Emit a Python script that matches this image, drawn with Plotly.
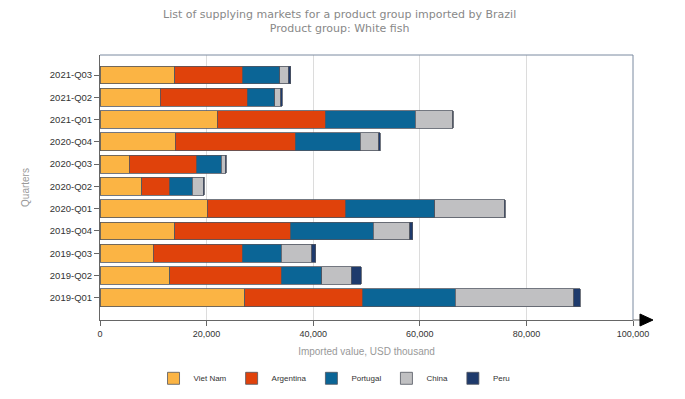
import plotly.graph_objects as go

quarters = ["2019-Q01", "2019-Q02", "2019-Q03", "2019-Q04", "2020-Q01", "2020-Q02",
            "2020-Q03", "2020-Q04", "2021-Q01", "2021-Q02", "2021-Q03"]
viet_nam = [27200, 13130, 10010, 14070, 20140, 7820, 5440, 14130, 22010, 11260, 14070]
argentina = [22080, 20890, 16690, 21760, 25950, 5310, 12690, 22460, 20260, 16380, 12700]
portugal = [17390, 7630, 7260, 15450, 16760, 4190, 4630, 12250, 16890, 5190, 7000]
china = [22200, 5500, 5750, 6880, 12950, 2060, 750, 3430, 7000, 1060, 1560]
peru = [1190, 1820, 750, 560, 190, 190, 190, 320, 130, 320, 500]

series = [
    ("Viet Nam", viet_nam, "#FBB444"),
    ("Argentina", argentina, "#E0420B"),
    ("Portugal", portugal, "#0B6596"),
    ("China", china, "#C0C0C2"),
    ("Peru", peru, "#1E3A6C"),
]

fig = go.Figure()
for name, vals, col in series:
    fig.add_trace(go.Bar(
        y=quarters, x=vals, name=name, orientation="h",
        marker=dict(color=col, line=dict(color="#505560", width=0.8)),
    ))

font = "Liberation Sans, Arial, sans-serif"
fig.update_layout(
    width=685, height=399,
    barmode="stack", bargap=0.2,
    margin=dict(l=92, r=60, t=47, b=87, autoexpand=False),
    paper_bgcolor="white", plot_bgcolor="white",
    font=dict(family=font, size=9, color="#333"),
    xaxis=dict(
        range=[0, 100000], tickvals=[0, 20000, 40000, 60000, 80000, 100000],
        tickformat=",", showgrid=True, gridcolor="#dcdcdc", gridwidth=1,
        showline=True, linecolor="#666", linewidth=1,
        ticks="outside", ticklen=5, tickcolor="#666",
        zeroline=False, mirror=False, automargin=False,
        title=dict(text="Imported value, USD thousand", font=dict(size=10, color="#999"), standoff=10),
        tickfont=dict(size=9, color="#333"),
    ),
    yaxis=dict(
        categoryorder="array", categoryarray=quarters,
        range=[-1, 10.9], automargin=False,
        showline=True, linecolor="#666", linewidth=1,
        ticks="outside", ticklen=5, tickcolor="#666",
        showgrid=False,
        title=dict(text="Quarters", font=dict(size=10, color="#999"), standoff=18),
        tickfont=dict(size=9.5, color="#333"),
    ),
    legend=dict(
        orientation="h", x=0.44, xanchor="center", y=-0.22, yanchor="middle",
        font=dict(size=8, color="#333"), traceorder="normal",
        itemwidth=30,
    ),
    showlegend=True,
)

fig.add_annotation(
    text="List of supplying markets for a product group imported by Brazil<br>Product group: White fish",
    xref="paper", yref="paper", x=0.45, y=1.128, xanchor="center", yanchor="middle",
    showarrow=False, borderpad=0,
    font=dict(family="DejaVu Sans, sans-serif", size=11, color="#888"),
)

# frame: top and right border lines
fig.add_shape(type="line", xref="paper", yref="paper", x0=0, x1=1, y0=1, y1=1,
              line=dict(color="#7a8aa0", width=1))
fig.add_shape(type="line", xref="paper", yref="paper", x0=1, x1=1, y0=0, y1=1,
              line=dict(color="#7a8aa0", width=1))
# x axis extension and arrow
fig.add_shape(type="line", xref="paper", yref="paper", x0=1, x1=1.015, y0=0, y1=0,
              line=dict(color="#666", width=1))
fig.add_shape(type="path", xref="paper", yref="paper",
              path="M 1.0131,0.0226 L 1.0375,0 L 1.0131,-0.0226 Z",
              fillcolor="black", line=dict(color="black", width=1))

fig.write_html("out.html")
